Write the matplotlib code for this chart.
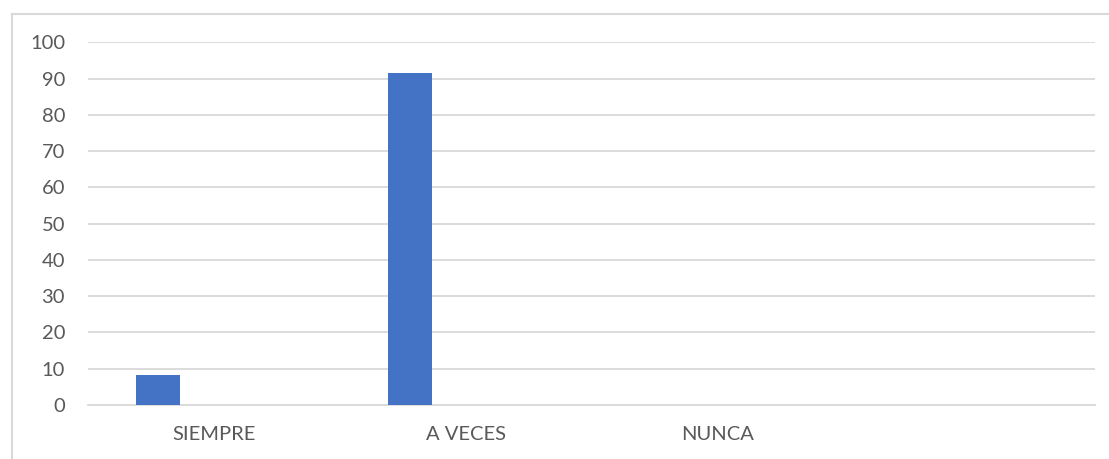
import matplotlib.pyplot as plt
import numpy as np
from matplotlib.lines import Line2D

# Datos del gráfico
categorias = ["SIEMPRE", "A VECES", "NUNCA", ""]
valores = [8.33, 91.67, 0, 0]
ticks_y = [0, 10, 20, 30, 40, 50, 60, 70, 80, 90, 100]

plt.rcParams['font.family'] = ['Lato', 'DejaVu Sans']

W, H = 1109, 459
fig = plt.figure(figsize=(W / 100, H / 100), dpi=100)
ax = fig.add_axes([88 / W, 54 / H, (1095 - 88) / W, (405 - 42.3) / H])

x = np.arange(len(categorias))
ax.bar(x - 0.222, valores, width=0.175, color="#4472C4", zorder=3)

ax.set_xlim(-0.5, len(categorias) - 0.5)
ax.set_ylim(0, 100)
ax.set_yticks(ticks_y)
ax.set_xticks(x)
ax.set_xticklabels(categorias)
ax.tick_params(axis="y", length=0, pad=16.5, labelsize=14.5, labelcolor="#595959")
ax.tick_params(axis="x", length=0, pad=15, labelsize=14.5, labelcolor="#595959")
ax.grid(axis="y", color="#d9d9d9", linewidth=1.3, zorder=0)
for s in ["top", "right", "left"]:
    ax.spines[s].set_visible(False)
ax.spines["bottom"].set_color("#d9d9d9")
ax.spines["bottom"].set_linewidth(1.3)

# borde del área del gráfico (izquierda y arriba)
fig.add_artist(Line2D([12 / W, 12 / W], [0, 1 - 14 / H], color="#d9d9d9", lw=1.5))
fig.add_artist(Line2D([12 / W, 1], [1 - 14 / H, 1 - 14 / H], color="#d9d9d9", lw=1.5))

fig.savefig("out.png", dpi=100)
